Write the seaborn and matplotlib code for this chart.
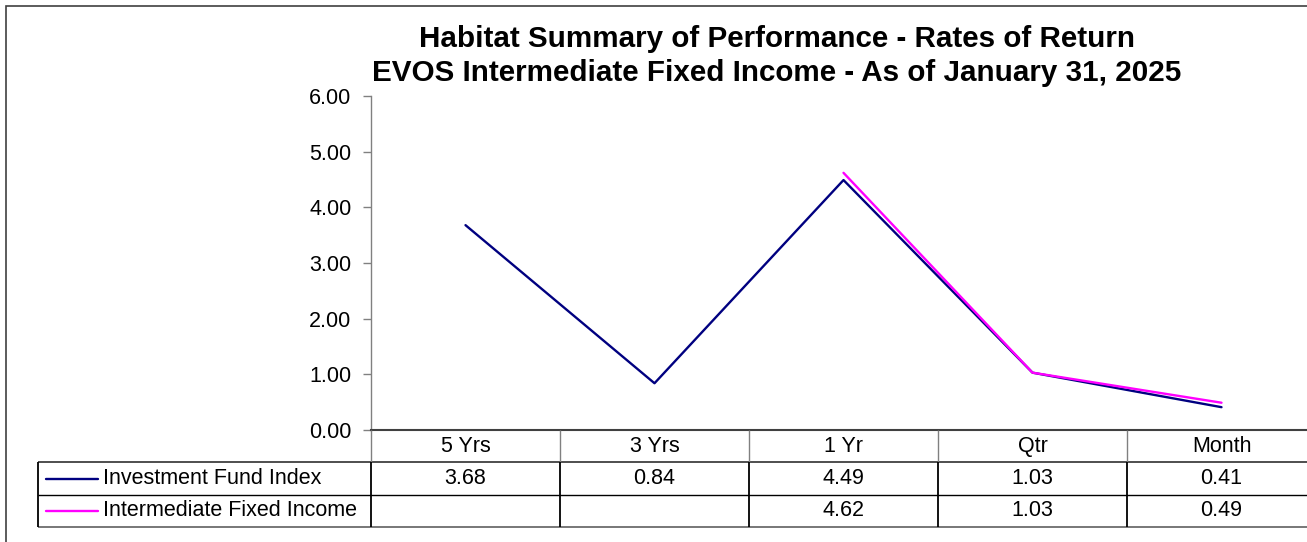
import numpy as np
import pandas as pd
import seaborn as sns
import matplotlib.pyplot as plt
from matplotlib.patches import Rectangle

# data
periods = ['5 Yrs', '3 Yrs', '1 Yr', 'Qtr', 'Month']
fund_index = [3.68, 0.84, 4.49, 1.03, 0.41]
fixed_income = [np.nan, np.nan, 4.62, 1.03, 0.49]
series_names = ['Investment Fund Index', 'Intermediate Fixed Income']
series_colors = ['#000080', '#FF00FF']
y_ticks = [0, 1, 2, 3, 4, 5, 6]
title_1 = 'Habitat Summary of Performance - Rates of Return'
title_2 = 'EVOS Intermediate Fixed Income - As of January 31, 2025'

df = pd.DataFrame({
    'period': periods * 2,
    'series': [series_names[0]] * len(periods) + [series_names[1]] * len(periods),
    'value': fund_index + fixed_income,
})

sns.set_theme(style='white')
plt.rcParams['font.family'] = ['Liberation Sans', 'DejaVu Sans']
plt.rcParams['text.color'] = 'black'
plt.rcParams['ytick.color'] = 'black'

W, H = 1307, 542
fig = plt.figure(figsize=(W / 100, H / 100), dpi=100)


def box(x0, y0, x1, y1):
    # pixel box (top-left origin) -> figure fraction
    return [x0 / W, 1 - y1 / H, (x1 - x0) / W, (y1 - y0) / H]


# outer chart border
fig.patches.append(Rectangle((6 / W, -0.05), 1.0, 1.05 - 6 / H, transform=fig.transFigure,
                             fill=False, edgecolor='#404040', linewidth=1.2))

# main line chart
ax = fig.add_axes(box(371, 96, 1316, 430))
sns.lineplot(data=df, x='period', y='value', hue='series', hue_order=series_names,
             palette=dict(zip(series_names, series_colors)), linewidth=1.7,
             errorbar=None, legend=False, ax=ax)
ax.set_xlim(-0.5, len(periods) - 0.5)
ax.set_ylim(0, 6)
ax.set_yticks(y_ticks)
ax.set_yticklabels([f'{v:.2f}' for v in y_ticks])
ax.set_xticks([])
ax.set_xlabel('')
ax.set_ylabel('')
ax.tick_params(axis='y', left=True, direction='out', length=6, width=1,
               color='#808080', pad=8, labelsize=15.5, labelcolor='black')
for s in ['top', 'right']:
    ax.spines[s].set_visible(False)
ax.spines['left'].set_color('#808080')
ax.spines['left'].set_linewidth(1)
ax.spines['bottom'].set_color('#404040')
ax.spines['bottom'].set_linewidth(1.5)

# data table below the chart
tax = fig.add_axes(box(38, 430, 1316, 527))
col_w = 189
L = (371 - 38) / col_w
left = -0.5 - L
tax.set_xlim(left, len(periods) - 0.5)
tax.set_ylim(0, 3)
tax.axis('off')


def px(x):
    return -0.5 + (x - 371) / col_w


tax.hlines(2, left, len(periods) - 0.5, color='#303030', linewidth=1.2, clip_on=False)
tax.hlines(1, left, len(periods) - 0.5, color='black', linewidth=1, clip_on=False)
tax.hlines(0, left, len(periods) - 0.5, color='#606060', linewidth=1.2, clip_on=False)
tax.vlines(-0.5, 2, 3, color='#808080', linewidth=1, clip_on=False)
for i in range(len(periods)):
    if i > 0:
        tax.vlines(i - 0.5, 2, 3, color='#808080', linewidth=1, clip_on=False)
    tax.vlines(i - 0.5, 0, 2, color='black', linewidth=1.3, clip_on=False)
tax.vlines(left, 0, 2, color='black', linewidth=1.3, clip_on=False)

for i, p in enumerate(periods):
    tax.text(i, 2.5, p, ha='center', va='center', fontsize=15.5)

for row, (name, color, vals) in enumerate(zip(series_names, series_colors,
                                               [fund_index, fixed_income])):
    yc = 1.5 - row
    tax.plot([px(46), px(98)], [yc, yc], color=color, linewidth=1.7)
    tax.text(px(103), yc, name, ha='left', va='center', fontsize=15.5)
    for i, v in enumerate(vals):
        if not np.isnan(v):
            tax.text(i, yc, f'{v:.2f}', ha='center', va='center', fontsize=15.5)

# title
fig.text(777 / W, 1 - 47 / H, title_1, ha='center', va='baseline',
         fontsize=21.3, fontweight='bold')
fig.text(777 / W, 1 - 81 / H, title_2, ha='center', va='baseline',
         fontsize=21.3, fontweight='bold')

fig.savefig('out.png', dpi=100)
